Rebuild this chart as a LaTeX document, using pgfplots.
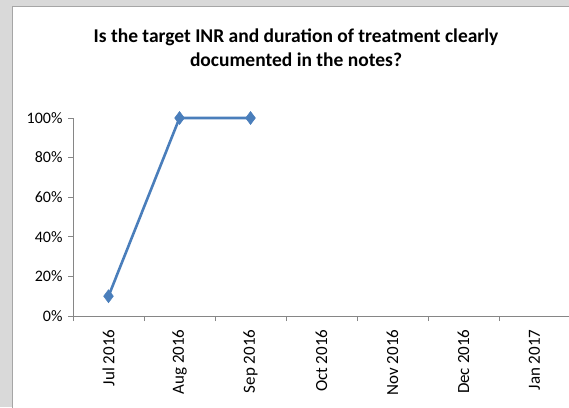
\documentclass[border=0pt]{standalone}
\usepackage{pgfplots}
\pgfplotsset{compat=1.18}
\usepackage{fontspec}
\setmainfont{Carlito}
\definecolor{bggray}{HTML}{D9D9D9}
\definecolor{bordergray}{HTML}{A6A6A6}
\definecolor{axgray}{HTML}{868686}
\definecolor{serblue}{HTML}{4A7EBB}
\begin{document}
\begin{tikzpicture}[x=1pt,y=1pt]
\path[use as bounding box, clip] (0,0) rectangle (569,407);
\fill[bggray] (0,0) rectangle (569,407);
\fill[white] (12,-5) rectangle (580,400);
\draw[bordergray, line width=1pt] (12,-5) -- (12,400) -- (580,400);
\node[font=\bfseries\fontsize{19.5}{24}\selectfont, anchor=base, inner sep=0pt] at (296,364) {Is the target INR and duration of treatment clearly};
\node[font=\bfseries\fontsize{19.5}{24}\selectfont, anchor=base, inner sep=0pt] at (296,340) {documented in the notes?};
\begin{axis}[
  at={(73pt,91pt)}, anchor=south west,
  scale only axis, width=497pt, height=198pt,
  xmin=-0.5, xmax=6.5, ymin=0, ymax=100,
  axis x line=bottom, axis y line=left,
  axis line style={axgray, line width=0.8pt, -},
  clip=false,
  xtick={0,...,6},
  xticklabels={Jul 2016,Aug 2016,Sep 2016,Oct 2016,Nov 2016,Dec 2016,Jan 2017},
  x tick label style={rotate=90, anchor=east, font=\fontsize{17}{17}\selectfont, xshift=-5pt},
  major x tick style={draw=none},
  minor xtick={-0.5,0.5,...,6.5},
  minor x tick style={axgray, line width=0.8pt},
  ytick={0,20,...,100},
  yticklabel={\pgfmathprintnumber{\tick}\%},
  y tick label style={font=\fontsize{16}{16}\selectfont, xshift=-2pt},
  y tick style={axgray, line width=0.8pt},
  /pgf/number format/assume math mode=true,
  tick align=outside,
  major tick length=5pt, minor tick length=5pt,
]
\addplot[serblue, line width=2.6pt, mark=diamond*, mark size=6.5pt, mark options={fill=serblue, line width=0.5pt}] coordinates {(0,10) (1,100) (2,100)};
\end{axis}
\end{tikzpicture}
\end{document}
